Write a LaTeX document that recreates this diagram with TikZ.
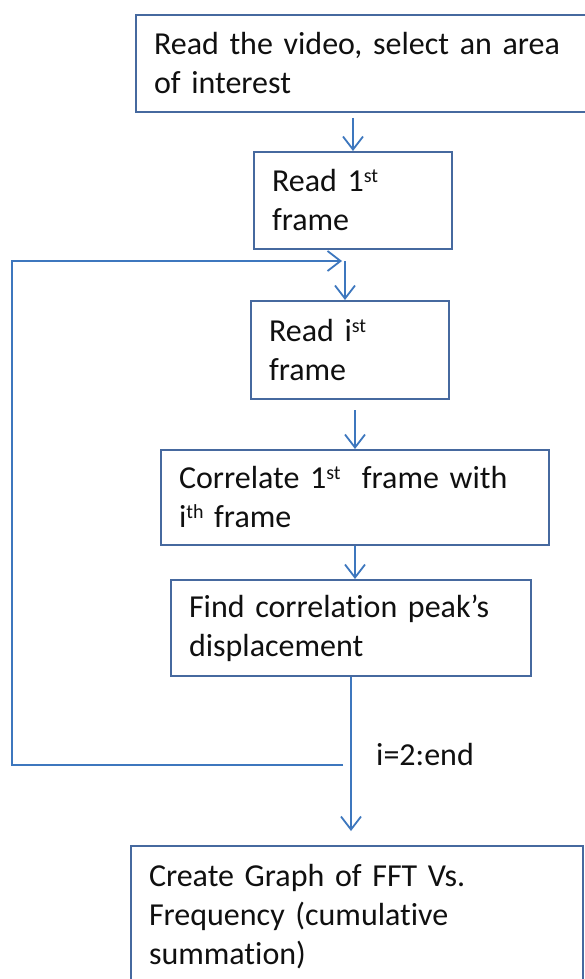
\documentclass[tikz,border=0pt]{standalone}
\usepackage{fontspec}
\setmainfont[Ligatures={NoCommon}]{Carlito}
\usetikzlibrary{arrows.meta}
\definecolor{boxc}{HTML}{46699F}
\definecolor{arrc}{HTML}{3D77BE}
\definecolor{txtc}{HTML}{101010}
\newcommand\supx[1]{\raisebox{9pt}{\fontsize{20}{20}\selectfont #1}}
\tikzset{
 stepbox/.style={draw=boxc, line width=2pt, rectangle, anchor=north west, inner xsep=18pt, inner ysep=0pt, align=left, text=txtc, font=\fontsize{32}{39}\selectfont},
 arr/.style={draw=arrc, line width=1.8pt, -{Straight Barb[length=13pt,width=20pt]}},
 lbl/.style={text=txtc, font=\fontsize{32}{39}\selectfont, inner sep=0pt}
}
\begin{document}
\begin{tikzpicture}[x=1pt,y=-1pt]
\useasboundingbox[fill=white] (0,0) rectangle (584,979);
\node[stepbox, text width=429pt, minimum height=97pt] (b1) at (135,14) {Read the video, select an area\\of interest};
\node[stepbox, text width=162pt, minimum height=97pt] (b2) at (253,151) {Read 1\supx{st}\\frame};
\node[stepbox, text width=162pt, minimum height=98pt] (b3) at (250,300) {Read i\supx{st}\\frame};
\node[stepbox, text width=352pt, minimum height=95pt] (b4) at (160,449) {Correlate 1\supx{st}\ \ frame with\\i\supx{th} frame};
\node[stepbox, text width=324pt, minimum height=96pt] (b5) at (170,579) {Find correlation peak’s\\displacement};
\node[stepbox, text width=416pt, minimum height=142pt] (b6) at (130,845) {Create Graph of FFT Vs.\\Frequency (cumulative\\summation)};
\coordinate (j) at (345,261);
\coordinate (ls) at (343,765);
\coordinate (lc1) at (12,765);
\coordinate (lc2) at (12,261);
\node[lbl, anchor=base west] (lab) at (376,765) {i=2:end};
\draw[arr, shorten <=5pt] (b2.north |- b1.south) -- (b2.north);
\draw[arr, shorten >=3pt] (ls) -- (lc1) -- (lc2) -- (j);
\draw[arr] (j) -- (j |- b3.north);
\draw[arr, shorten <=10pt] (b4.north |- b3.south) -- (b4.north);
\draw[arr] (b4.south) -- (b4.south |- b5.north);
\draw[arr, shorten >=14pt] (b5.south) -- (b5.south |- b6.north);
\end{tikzpicture}
\end{document}
